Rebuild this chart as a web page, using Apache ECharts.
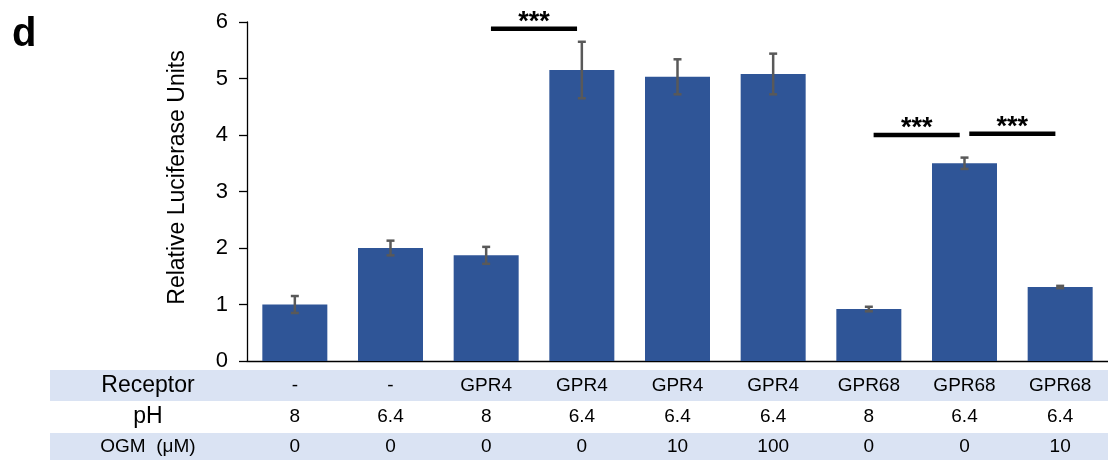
<!DOCTYPE html>
<html>
<head>
<meta charset="utf-8">
<script src="https://cdn.jsdelivr.net/npm/echarts@6/dist/echarts.min.js"></script>
<style>html,body{margin:0;padding:0;background:#fff}#c{width:1108px;height:460px}</style>
</head>
<body>
<div id="c"></div>
<script>
// ---- data ----
const receptors = ['-', '-', 'GPR4', 'GPR4', 'GPR4', 'GPR4', 'GPR68', 'GPR68', 'GPR68'];
const phValues = ['8', '6.4', '8', '6.4', '6.4', '6.4', '8', '6.4', '6.4'];
const ogmValues = ['0', '0', '0', '0', '10', '100', '0', '0', '10'];
const means = [1.00, 2.00, 1.87, 5.15, 5.03, 5.08, 0.92, 3.50, 1.31];
const errors = [0.15, 0.13, 0.15, 0.50, 0.31, 0.36, 0.04, 0.10, 0.02];
// significance brackets: [from category, to category, height]
const sigBrackets = [[2, 3, 5.88], [6, 7, 4.00], [7, 8, 4.02]];
const sigLabels = ['***', '***', '***'];
const rowLabels = ['Receptor', 'pH', 'OGM  (μM)'];
const yTicks = [0, 1, 2, 3, 4, 5, 6];

const FONT = '"Liberation Sans", Arial, sans-serif';
const chart = echarts.init(document.getElementById('c'));

const errData = means.map((m, i) => [i, m, errors[i]]);
const sigData = sigBrackets.map((b, i) => [b[0], b[1], b[2], sigLabels[i]]);

function xLabel(margin) {
  return { show: true, interval: 0, margin: margin, verticalAlign: 'middle', fontSize: 19, color: '#000', fontFamily: FONT };
}

const option = {
  backgroundColor: '#fff',
  animation: false,
  grid: { left: 247, right: -2, top: 22, bottom: 99, containLabel: false },
  xAxis: [
    { type: 'category', data: receptors, position: 'bottom',
      axisLine: { show: true, lineStyle: { color: '#000', width: 1.3 } },
      axisTick: { show: false }, axisLabel: xLabel(24.5), splitLine: { show: false } },
    { type: 'category', data: phValues, position: 'bottom',
      axisLine: { show: false }, axisTick: { show: false }, axisLabel: xLabel(56), splitLine: { show: false } },
    { type: 'category', data: ogmValues, position: 'bottom',
      axisLine: { show: false }, axisTick: { show: false }, axisLabel: xLabel(85.5), splitLine: { show: false } }
  ],
  yAxis: {
    type: 'value', min: yTicks[0], max: yTicks[yTicks.length - 1], interval: 1,
    name: 'Relative Luciferase Units', nameLocation: 'middle', nameGap: 58, nameRotate: 90,
    nameTextStyle: { fontSize: 23, color: '#000', fontFamily: FONT, padding: [0, 0, 0, 28] },
    axisLine: { show: true, lineStyle: { color: '#000', width: 1.3 } },
    axisTick: { show: true, length: 8, lineStyle: { color: '#000', width: 1.3 } },
    axisLabel: { margin: 19, fontSize: 22, color: '#000', fontFamily: FONT },
    splitLine: { show: false }
  },
  series: [
    { type: 'bar', data: means, xAxisIndex: 0, barWidth: 65,
      itemStyle: { color: '#2F5597' } },
    { type: 'custom', xAxisIndex: 0, data: errData, z: 5, clip: false,
      renderItem: function (params, api) {
        const x = api.value(0), m = api.value(1), e = api.value(2);
        const top = api.coord([x, m + e]);
        const bot = api.coord([x, m - e]);
        const cw = 4;
        const st = { stroke: '#595959', lineWidth: 2.5 };
        return { type: 'group', children: [
          { type: 'line', shape: { x1: top[0], y1: top[1], x2: bot[0], y2: bot[1] }, style: st },
          { type: 'line', shape: { x1: top[0] - cw, y1: top[1], x2: top[0] + cw, y2: top[1] }, style: st },
          { type: 'line', shape: { x1: bot[0] - cw, y1: bot[1], x2: bot[0] + cw, y2: bot[1] }, style: st }
        ]};
      } },
    { type: 'custom', xAxisIndex: 0, data: sigData, z: 6, clip: false,
      renderItem: function (params, api) {
        const a = api.coord([api.value(0), api.value(2)]);
        const b = api.coord([api.value(1), api.value(2)]);
        const band = api.size([1, 0])[0];
        const inset = band * 0.05;
        const x1 = a[0] + inset, x2 = b[0] - inset;
        return { type: 'group', children: [
          { type: 'line', shape: { x1: x1, y1: a[1], x2: x2, y2: a[1] }, style: { stroke: '#000', lineWidth: 4.5 } },
          { type: 'text', style: { text: sigData[params.dataIndex][3], x: (x1 + x2) / 2, y: a[1] - 6,
              align: 'center', verticalAlign: 'middle', fontSize: 27, fontWeight: 'bold', fill: '#000', fontFamily: FONT } }
        ]};
      } }
  ],
  graphic: [
    { type: 'rect', z: -1, shape: { x: 50, y: 370, width: 1058, height: 31 }, style: { fill: '#DAE3F3' } },
    { type: 'rect', z: -1, shape: { x: 50, y: 433, width: 1058, height: 27 }, style: { fill: '#DAE3F3' } },
    { type: 'text', x: 148, y: 385.5, style: { text: rowLabels[0], align: 'center', verticalAlign: 'middle', fontSize: 23, fill: '#000', fontFamily: FONT } },
    { type: 'text', x: 148, y: 417, style: { text: rowLabels[1], align: 'center', verticalAlign: 'middle', fontSize: 23, fill: '#000', fontFamily: FONT } },
    { type: 'text', x: 148, y: 446.5, style: { text: rowLabels[2], align: 'center', verticalAlign: 'middle', fontSize: 19, fill: '#000', fontFamily: FONT } },
    { type: 'text', x: 12, y: 35, style: { text: 'd', align: 'left', verticalAlign: 'middle', fontSize: 40, fontWeight: 'bold', fill: '#000', fontFamily: FONT } }
  ]
};
chart.setOption(option);
</script>
</body>
</html>
